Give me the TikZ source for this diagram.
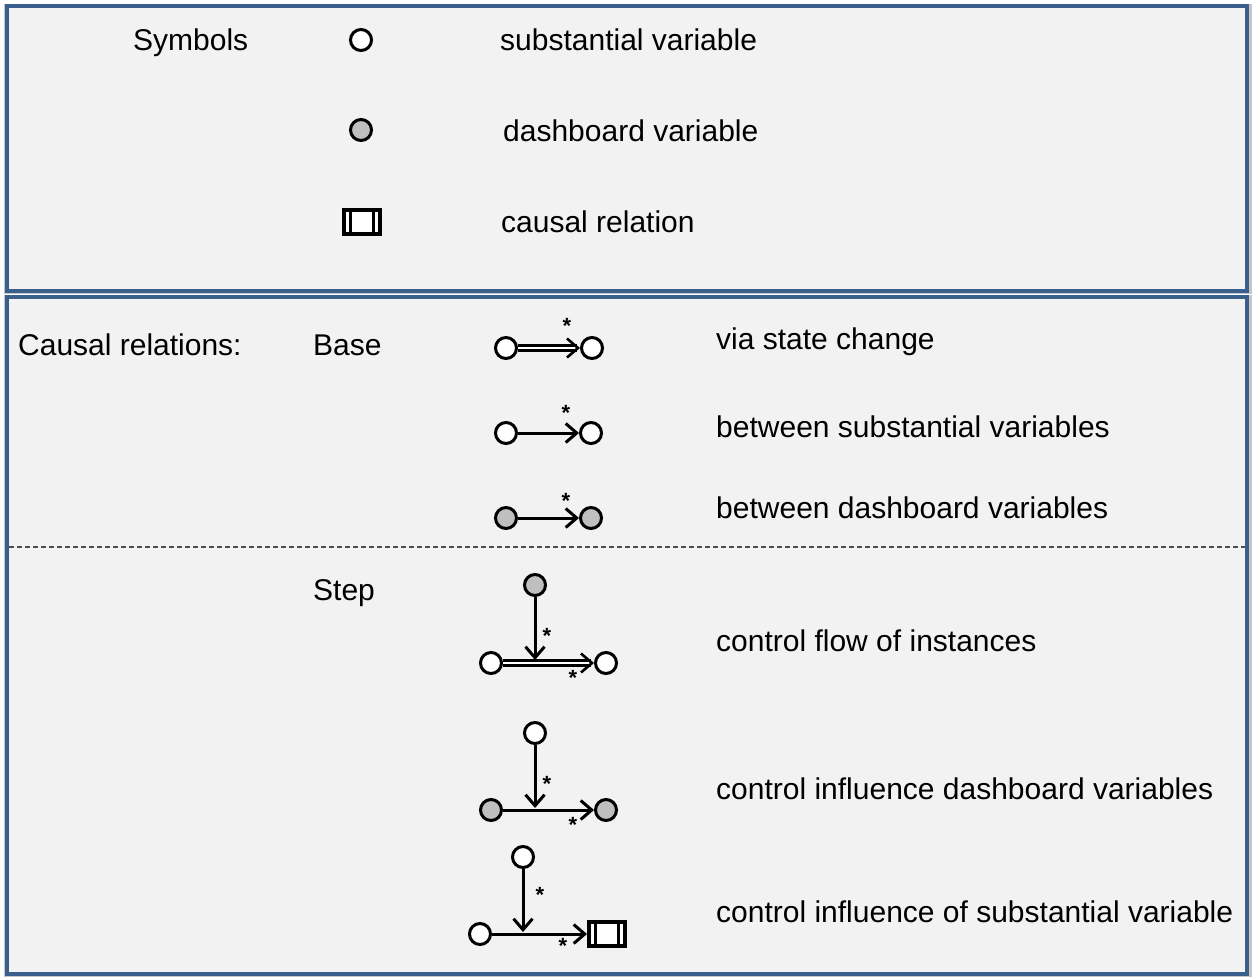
\documentclass[tikz,border=0pt]{standalone}
\usepackage{fontspec}
\setmainfont{Liberation Sans}
\usetikzlibrary{arrows.meta}
\definecolor{frameblue}{RGB}{58,95,140}
\definecolor{panel}{RGB}{242,242,242}
\definecolor{dashgray}{RGB}{191,191,191}
\begin{document}
\begin{tikzpicture}[x=1pt,y=-1pt,
  panelbox/.style={draw=frameblue,line width=4,fill=panel},
  sv/.style={circle,draw,line width=3,fill=white,minimum size=21,inner sep=0},
  dv/.style={sv,fill=dashgray},
  rel/.style={draw,line width=4.2,fill=white,minimum width=36,minimum height=24,inner sep=0,outer sep=0},
  relbar/.style={line width=2.6},
  lbl/.style={anchor=base west,font=\fontsize{30}{34}\selectfont,inner sep=0},
  star/.style={font=\fontsize{22}{22}\selectfont\bfseries,inner sep=0},
  arr/.style={line width=3,-{Straight Barb[length=11,width=19,line width=3]}},
  dbl/.style={double,line width=2.4,double distance=2.6,-{Straight Barb[length=11,width=19,line width=2.6]}}
]
\useasboundingbox (0,0) rectangle (1257,978);
\fill[white] (0,0) rectangle (1257,978);
% shadows
\fill[gray!45] (4,4) rectangle (1252,294);
\fill[gray!45] (4,295) rectangle (1252,977);
% panels
\draw[panelbox] (7,6) rectangle (1247,291);
\draw[panelbox] (7,297) rectangle (1247,974);
\draw[dashed,line width=1.2,black!70,dash pattern=on 5pt off 3pt] (9,547) -- (1245,547);

% Symbols legend
\node[lbl] (tsym) at (133,50) {Symbols};
\node[sv] (s1) at (361,40) {};
\node[lbl] (t1) at (500,50) {substantial variable};
\node[dv] (s2) at (361,130) {};
\node[lbl] (t2) at (503,141) {dashboard variable};
\node[rel] (s3) at (362,222) {};
\draw[relbar] ([xshift=6.5]s3.south west) -- ([xshift=6.5]s3.north west);
\draw[relbar] ([xshift=-6.5]s3.south east) -- ([xshift=-6.5]s3.north east);
\node[lbl] (t3) at (501,232) {causal relation};

% Causal relations
\node[lbl] (tcr) at (18,355) {Causal relations:};
\node[lbl] (tbase) at (313,355) {Base};
\node[sv] (a1) at (506,348) {};
\node[sv] (a2) at (592,348) {};
\draw[dbl] (a1) -- (a2);
\node[star] (st1) at (567,326) {*};
\node[lbl] (ta) at (716,349) {via state change};

\node[sv] (b1) at (506,433) {};
\node[sv] (b2) at (591,433) {};
\draw[arr] (b1) -- (b2);
\node[star] (st2) at (566,413) {*};
\node[lbl] (tb) at (716,437) {between substantial variables};

\node[dv] (c1) at (506,518) {};
\node[dv] (c2) at (591,518) {};
\draw[arr] (c1) -- (c2);
\node[star] (st3) at (566,501) {*};
\node[lbl] (tc) at (716,518) {between dashboard variables};

% Step
\node[lbl] (tstep) at (313,600) {Step};
\node[dv] (d0) at (535,585) {};
\node[sv] (d1) at (491,663) {};
\node[sv] (d2) at (606,663) {};
\draw[dbl] (d1) -- (d2);
\coordinate (dj) at (535,660);
\draw[arr] (d0) -- (dj);
\node[star] (st4) at (547,636) {*};
\node[star] (st5) at (573,678) {*};
\node[lbl] (td) at (716,651) {control flow of instances};

\node[sv] (e0) at (535,733) {};
\node[dv] (e1) at (491,810) {};
\node[dv] (e2) at (606,810) {};
\draw[arr] (e1) -- (e2);
\coordinate (ej) at (535,808);
\draw[arr] (e0) -- (ej);
\node[star] (st6) at (547,784) {*};
\node[star] (st7) at (573,825) {*};
\node[lbl] (te) at (716,799) {control influence dashboard variables};

\node[sv] (f0) at (523,857) {};
\node[sv] (f1) at (480,934) {};
\node[rel] (f2) at (607,934) {};
\draw[relbar] ([xshift=6.5]f2.south west) -- ([xshift=6.5]f2.north west);
\draw[relbar] ([xshift=-6.5]f2.south east) -- ([xshift=-6.5]f2.north east);
\draw[arr] (f1) -- ([xshift=-2]f2.west);
\coordinate (fj) at (523,932);
\draw[arr] (f0) -- (fj);
\node[star] (st8) at (540,895) {*};
\node[star] (st9) at (563,946) {*};
\node[lbl] (tf) at (716,922) {control influence of substantial variable};
\end{tikzpicture}
\end{document}
